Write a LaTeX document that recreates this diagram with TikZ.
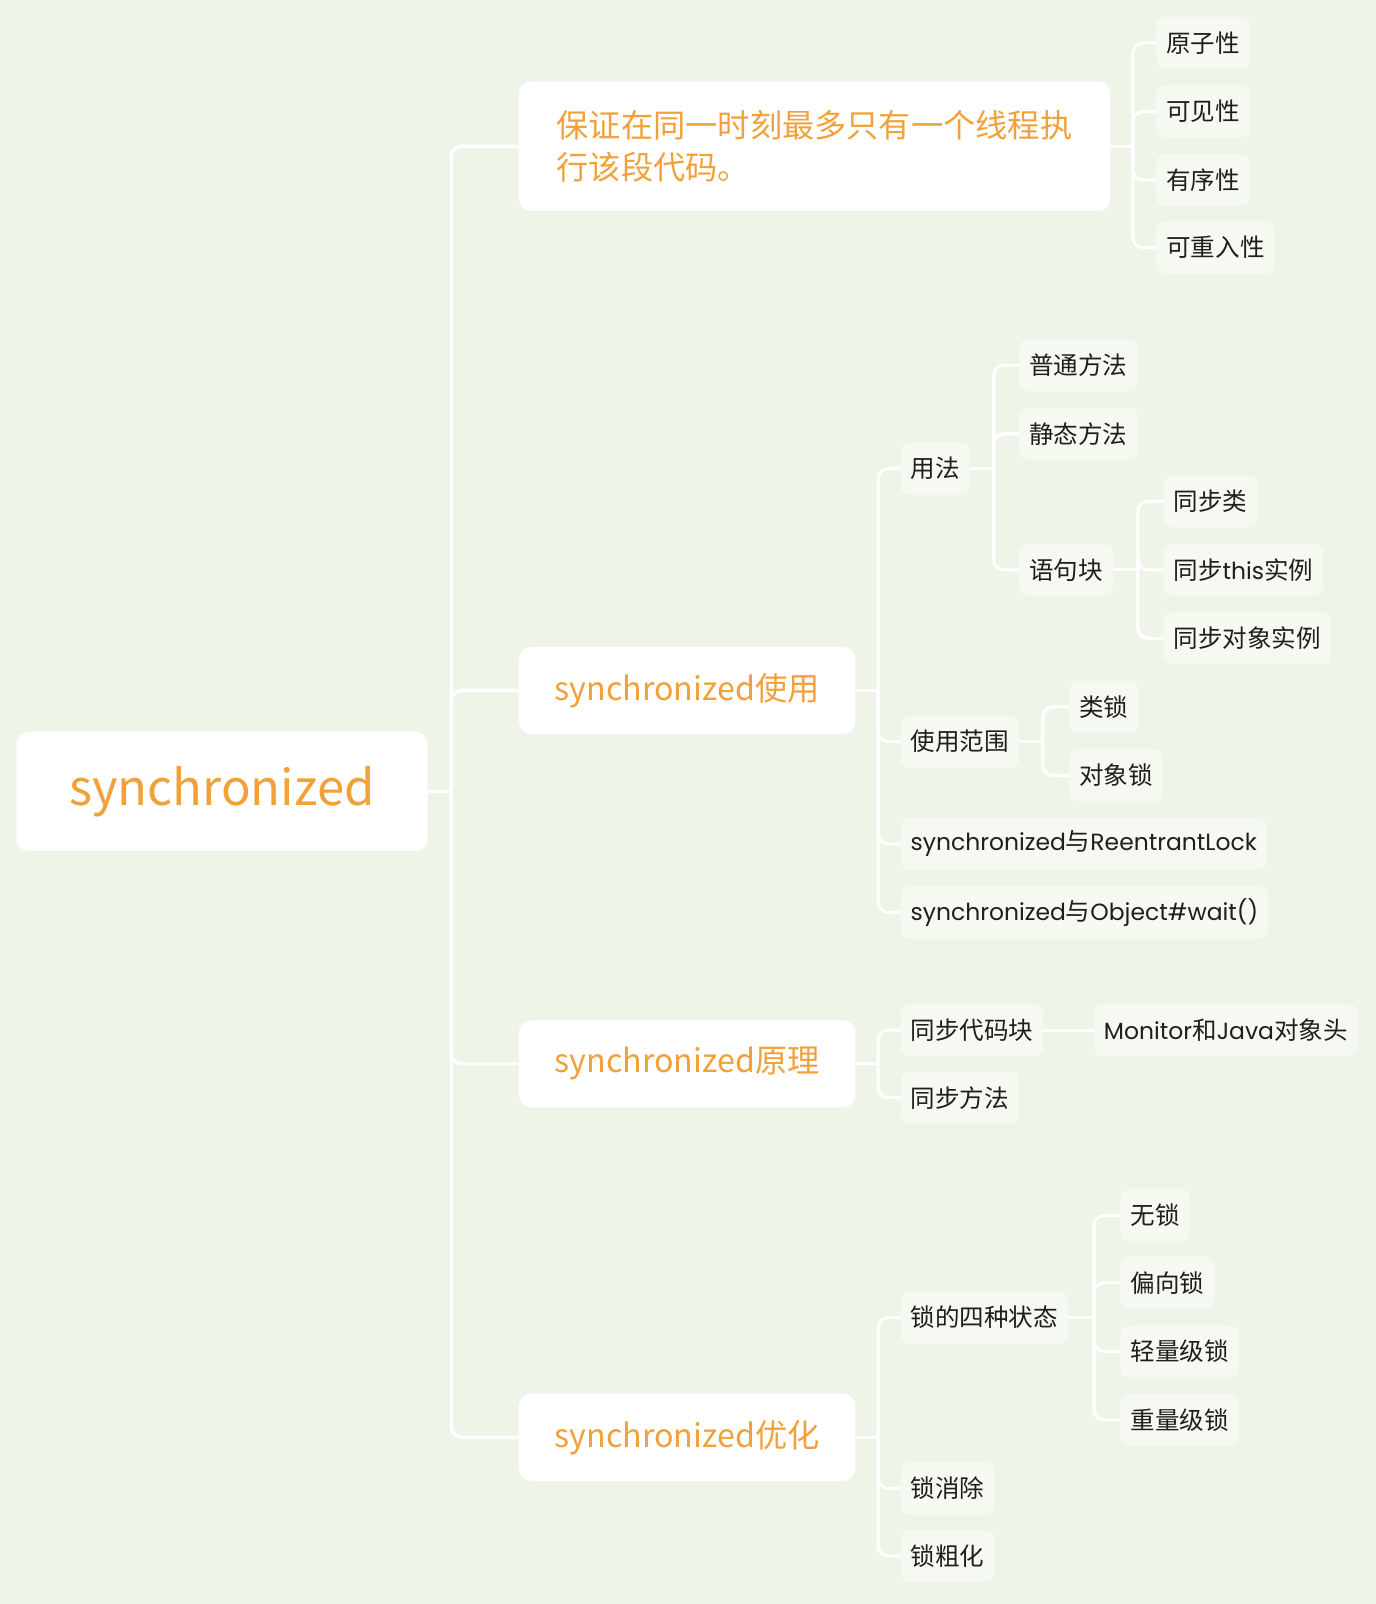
\documentclass[tikz,border=0pt]{standalone}
\usepackage{fontspec}
\setmainfont{Noto Sans CJK SC}
\newfontfamily\pop[Scale=0.955]{Poppins}
\definecolor{bgc}{HTML}{EFF4E9}
\definecolor{leaffill}{HTML}{F6F9F1}
\definecolor{orng}{HTML}{F2A13A}
\definecolor{ink}{HTML}{1E1E1E}
\tikzset{
  conn/.style={draw=white, line width=3pt, rounded corners=10pt},
  rootbox/.style={fill=white, rounded corners=12pt, text=orng, font=\fontsize{48}{56}\selectfont, minimum width=402pt, minimum height=117pt, inner sep=0pt},
  lonebox/.style={fill=white, rounded corners=12pt, text=orng, font=\fontsize{31.5}{41}\selectfont, minimum height=85pt, inner xsep=35pt, inner ysep=0pt, anchor=west},
  leafbox/.style={fill=leaffill, rounded corners=9pt, text=ink, font=\fontsize{24}{28}\selectfont, minimum height=51pt, inner xsep=10pt, inner ysep=0pt, anchor=west},
}
\begin{document}
\begin{tikzpicture}[x=1pt,y=-1pt]
\fill[bgc] (0,0) rectangle (1345,1568);
\useasboundingbox (0,0) rectangle (1345,1568);

% root
\node[rootbox] (root) at (217,773.5) {synchronized};

% level 1
\node[lonebox, minimum height=127pt, minimum width=578pt, align=left] (A) at (507,143) {保证在同一时刻最多只有一个线程执\\行该段代码。};
\node[lonebox] (B) at (507,675) {synchronized使用};
\node[lonebox] (C) at (507,1040) {synchronized原理};
\node[lonebox] (D) at (507,1405) {synchronized优化};

% A children
\node[leafbox] (a1) at (1130,42) {原子性};
\node[leafbox] (a2) at (1130,109) {可见性};
\node[leafbox] (a3) at (1130,176) {有序性};
\node[leafbox] (a4) at (1130,242) {可重入性};

% B children
\node[leafbox] (b1) at (880,458) {用法};
\node[leafbox] (b2) at (880,725) {使用范围};
\node[leafbox] (b3) at (880,825) {{\pop synchronized}与{\pop ReentrantLock}};
\node[leafbox] (b4) at (880,892) {{\pop synchronized}与{\pop Object\#wait()}};

\node[leafbox] (b11) at (996,357) {普通方法};
\node[leafbox] (b12) at (996,424) {静态方法};
\node[leafbox] (b13) at (996,557) {语句块};

\node[leafbox] (b131) at (1137,490) {同步类};
\node[leafbox] (b132) at (1137,557) {同步{\pop this}实例};
\node[leafbox] (b133) at (1137,624) {同步对象实例};

\node[leafbox] (b21) at (1045,691) {类锁};
\node[leafbox] (b22) at (1045,758) {对象锁};

% C children
\node[leafbox] (c1) at (880,1007) {同步代码块};
\node[leafbox] (c2) at (880,1073) {同步方法};
\node[leafbox] (c11) at (1069,1007) {{\pop Monitor}和{\pop Java}对象头};

% D children
\node[leafbox] (d1) at (880,1288) {锁的四种状态};
\node[leafbox] (d2) at (880,1455) {锁消除};
\node[leafbox] (d3) at (880,1521) {锁粗化};

\node[leafbox] (d11) at (1095,1188) {无锁};
\node[leafbox] (d12) at (1095,1254) {偏向锁};
\node[leafbox] (d13) at (1095,1321) {轻量级锁};
\node[leafbox] (d14) at (1095,1388) {重量级锁};

% junction coordinates
\coordinate (rootj) at ([xshift=23pt]root.east);
\coordinate (Aj) at ([xshift=22pt]A.east);
\coordinate (Bj) at ([xshift=22pt]B.east);
\coordinate (Cj) at ([xshift=22pt]C.east);
\coordinate (Dj) at ([xshift=22pt]D.east);
\coordinate (b1j) at ([xshift=23pt]b1.east);
\coordinate (b13j) at ([xshift=24pt]b13.east);
\coordinate (b2j) at ([xshift=23pt]b2.east);
\coordinate (d1j) at ([xshift=25pt]d1.east);

% connectors
\draw[conn] (root.east) -- (rootj);
\foreach \c in {A,B,C,D} \draw[conn] (rootj) |- (\c.west);

\draw[conn] (A.east) -- (Aj);
\foreach \c in {a1,a2,a3,a4} \draw[conn] (Aj) |- (\c.west);

\draw[conn] (B.east) -- (Bj);
\foreach \c in {b1,b2,b3,b4} \draw[conn] (Bj) |- (\c.west);

\draw[conn] (b1.east) -- (b1j);
\foreach \c in {b11,b12,b13} \draw[conn] (b1j) |- (\c.west);

\draw[conn] (b13.east) -- (b13j);
\foreach \c in {b131,b132,b133} \draw[conn] (b13j) |- (\c.west);

\draw[conn] (b2.east) -- (b2j);
\foreach \c in {b21,b22} \draw[conn] (b2j) |- (\c.west);

\draw[conn] (C.east) -- (Cj);
\foreach \c in {c1,c2} \draw[conn] (Cj) |- (\c.west);
\draw[conn] (c1.east) -- (c11.west);

\draw[conn] (D.east) -- (Dj);
\foreach \c in {d1,d2,d3} \draw[conn] (Dj) |- (\c.west);

\draw[conn] (d1.east) -- (d1j);
\foreach \c in {d11,d12,d13,d14} \draw[conn] (d1j) |- (\c.west);
\end{tikzpicture}
\end{document}
